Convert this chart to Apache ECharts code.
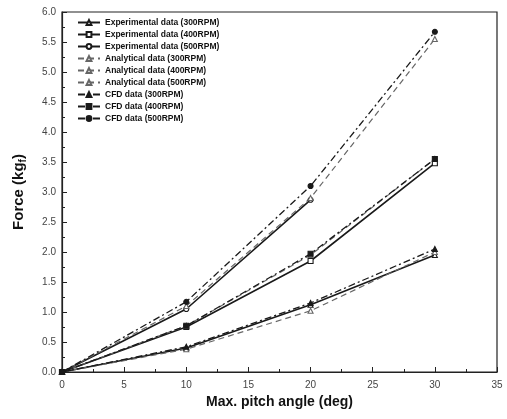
<!DOCTYPE html>
<html>
<head>
<meta charset="utf-8">
<script src="https://cdn.jsdelivr.net/npm/echarts@6/dist/echarts.min.js"></script>
<style>html,body{margin:0;padding:0;background:#fff}#c{width:507px;height:419px}</style>
</head>
<body>
<div id="c"></div>
<script>
const angles = [0, 10, 20, 30];
const angles500exp = [0, 10, 20];
const exp300 = [0, 0.40, 1.12, 1.95];
const exp400 = [0, 0.75, 1.85, 3.48];
const exp500 = [0, 1.05, 2.87];
const ana300 = [0, 0.38, 1.02, 2.00];
const ana400 = [0, 0.77, 1.95, 3.55];
const ana500 = [0, 1.10, 2.90, 5.55];
const cfd300 = [0, 0.42, 1.15, 2.05];
const cfd400 = [0, 0.77, 1.97, 3.55];
const cfd500 = [0, 1.17, 3.10, 5.67];
const seriesNames = [
  'Experimental data (300RPM)', 'Experimental data (400RPM)', 'Experimental data (500RPM)',
  'Analytical data (300RPM)', 'Analytical data (400RPM)', 'Analytical data (500RPM)',
  'CFD data (300RPM)', 'CFD data (400RPM)', 'CFD data (500RPM)'
];
const xTitle = 'Max. pitch angle (deg)';
const yTitleMain = 'Force (kg';
const yTitleSub = 'f';

function pairs(xs, ys) { return ys.map((v, i) => [xs[i], v]); }

const expStyle = {color: '#1a1a1a', width: 1.6, type: 'solid'};
const anaStyle = {color: '#666', width: 1.2, type: [6, 4]};
const cfdStyle = {color: '#1a1a1a', width: 1.3, type: [7, 3, 2, 3]};

function mk(name, data, ls, symbol, filled) {
  return {
    name, type: 'line', data, symbol, symbolSize: 5,
    lineStyle: ls,
    itemStyle: {color: filled ? ls.color : '#fff', borderColor: ls.color, borderWidth: 1.1},
    emphasis: {disabled: true}, animation: false
  };
}

const series = [
  mk(seriesNames[0], pairs(angles, exp300), expStyle, 'triangle', false),
  mk(seriesNames[1], pairs(angles, exp400), expStyle, 'rect', false),
  mk(seriesNames[2], pairs(angles500exp, exp500), expStyle, 'circle', false),
  mk(seriesNames[3], pairs(angles, ana300), anaStyle, 'triangle', false),
  mk(seriesNames[4], pairs(angles, ana400), anaStyle, 'triangle', false),
  mk(seriesNames[5], pairs(angles, ana500), anaStyle, 'triangle', false),
  mk(seriesNames[6], pairs(angles, cfd300), cfdStyle, 'triangle', true),
  mk(seriesNames[7], pairs(angles, cfd400), cfdStyle, 'rect', true),
  mk(seriesNames[8], pairs(angles, cfd500), cfdStyle, 'circle', true)
];

const chart = echarts.init(document.getElementById('c'));
chart.setOption({
  backgroundColor: '#fff',
  animation: false,
  grid: {left: 62, right: 10, top: 12, bottom: 47, show: true, borderColor: '#222', borderWidth: 1.2},
  legend: {
    orient: 'vertical', left: 72, top: 13,
    itemWidth: 22, itemHeight: 6, itemGap: 3,
    textStyle: {fontFamily: 'Liberation Sans, Arial', fontSize: 8.5, fontWeight: 'bold', color: '#111'},
    data: seriesNames
  },
  xAxis: {
    type: 'value', min: 0, max: 35, interval: 5,
    name: xTitle, nameLocation: 'middle', nameGap: 22,
    nameTextStyle: {fontFamily: 'Liberation Sans, Arial', fontSize: 14, fontWeight: 'bold', color: '#111'},
    axisLine: {show: true, lineStyle: {color: '#222', width: 1.2}},
    axisTick: {show: true, inside: true, length: 5, lineStyle: {color: '#222'}},
    minorTick: {show: true, splitNumber: 2, length: 3, lineStyle: {color: '#222'}},
    axisLabel: {fontFamily: 'Liberation Sans, Arial', fontSize: 10, color: '#444', margin: 8},
    splitLine: {show: false}
  },
  yAxis: {
    type: 'value', min: 0, max: 6, interval: 0.5,
    name: '{a|' + yTitleMain + '}{b|' + yTitleSub + '}{a|)}', nameLocation: 'middle', nameGap: 34,
    nameTextStyle: {
      rich: {
        a: {fontFamily: 'Liberation Sans, Arial', fontSize: 15, fontWeight: 'bold', color: '#111'},
        b: {fontFamily: 'Liberation Sans, Arial', fontSize: 10, fontWeight: 'bold', color: '#111', padding: [8, 0, 0, 0]}
      }
    },
    axisLine: {show: true, lineStyle: {color: '#222', width: 1.2}},
    axisTick: {show: true, inside: true, length: 5, lineStyle: {color: '#222'}},
    minorTick: {show: true, splitNumber: 2, length: 3, lineStyle: {color: '#222'}},
    axisLabel: {fontFamily: 'Liberation Sans, Arial', fontSize: 10, color: '#444', margin: 6,
      formatter: v => v.toFixed(1)},
    splitLine: {show: false}
  },
  series
});
</script>
</body>
</html>
